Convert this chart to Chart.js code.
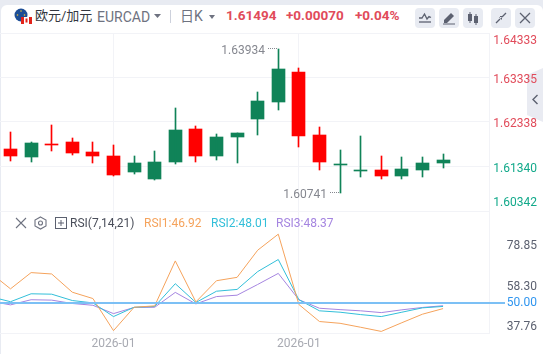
<!DOCTYPE html>
<html>
<head>
<meta charset="utf-8">
<script src="https://cdn.jsdelivr.net/npm/chart.js@4"></script>
<style>
html, body { margin: 0; padding: 0; width: 543px; height: 354px; overflow: hidden; background: #e8ebf2; font-family: Roboto, "Noto Sans CJK SC", sans-serif; }
#panel { position: absolute; left: 1px; top: 5px; width: 542px; height: 349px; background: #fff; border-radius: 6px 6px 0 0; }
canvas { position: absolute; left: 0; }
#candles { top: 32px; }
#rsi { top: 210px; }
.t { position: absolute; white-space: nowrap; line-height: 16px; }
.icon { position: absolute; }
.btn { position: absolute; top: 8px; width: 20px; height: 20px; background: #e8ebf2; border-radius: 4px; }
.btn svg { position: absolute; left: 0; top: 0; }
#tab { position: absolute; left: 527px; top: 68px; width: 16px; height: 54px; background: #e9ebf2; clip-path: polygon(0 7px, 100% 0, 100% 100%, 0 47px); }
</style>
</head>
<body>
<div id="panel"></div>
<div id="tab"></div>
<canvas id="candles" width="543" height="181"></canvas>
<canvas id="rsi" width="543" height="144"></canvas>

<svg class="icon" style="left:14px;top:8px" width="18" height="16" viewBox="0 0 18 16">
  <circle cx="7" cy="7" r="6.5" fill="#1d4e96"/>
  <circle cx="7" cy="3" r="0.8" fill="#f4c430"/><circle cx="3.5" cy="7" r="0.8" fill="#f4c430"/><circle cx="10.5" cy="7" r="0.8" fill="#f4c430"/>
  <rect x="7" y="9" width="11" height="7" fill="#fff"/>
  <rect x="7" y="9" width="3" height="7" fill="#e2231a"/><rect x="15" y="9" width="3" height="7" fill="#e2231a"/>
  <rect x="11.5" y="10.5" width="2" height="4" fill="#e2231a"/>
</svg>
<div class="t" style="left:35px;top:8px;font-size:13px;color:#333740">欧元/加元</div>
<div class="t" style="left:97px;top:9px;font-size:14px;color:#6e7280">EURCAD</div>
<svg class="icon" style="left:154px;top:14px" width="7" height="4"><path d="M0 0H7L3.5 4Z" fill="#6e7280"/></svg>
<div class="t" style="left:170px;top:10px;width:1px;height:13px;background:#cdd1dc"></div>
<div class="t" style="left:180px;top:8px;font-size:14px;color:#6e7280">日K</div>
<svg class="icon" style="left:209px;top:15px" width="6" height="4"><path d="M0 0H6L3 4Z" fill="#6e7280"/></svg>
<div class="t" style="left:226px;top:7px;font-size:13.5px;font-weight:700;color:#e14b5a">1.61494</div>
<div class="t" style="left:286px;top:7px;font-size:13.5px;font-weight:700;color:#e14b5a">+0.00070</div>
<div class="t" style="left:355px;top:7px;font-size:13.5px;font-weight:700;color:#e14b5a">+0.04%</div>

<div class="btn" style="left:415px"><svg width="20" height="20"><path d="M4 10L7 10L9.5 6L12 11L14 8.500L16 9.500" fill="none" stroke="#5c6170" stroke-width="1.300"/><path d="M4 14H16" stroke="#5c6170" stroke-width="1.300"/></svg></div>
<div class="btn" style="left:439px"><svg width="20" height="20"><path d="M5 12L12 5L15 8L8 15H5Z" fill="#5c6170"/><path d="M4 16H16" stroke="#5c6170"/></svg></div>
<div class="btn" style="left:463px"><svg width="20" height="20"><rect x="5" y="6" width="4" height="7" fill="#5c6170"/><path d="M7 4V15M13 6V17" stroke="#5c6170"/><rect x="11" y="8" width="4" height="7" fill="#5c6170"/></svg></div>
<div class="btn" style="left:491px"><svg width="20" height="20"><path d="M5 15L9 11M15 5L11 9" stroke="#5c6170" stroke-width="1.300"/><path d="M8 9H11V12ZM12 8H9V11Z" fill="#5c6170"/></svg></div>
<div class="btn" style="left:515px"><svg width="20" height="20"><path d="M5 5L15 15M15 5L5 15" stroke="#5c6170" stroke-width="1.300"/></svg></div>

<svg class="icon" style="left:531px;top:94px" width="8" height="11"><path d="M6.500 1L2 5.500L6.500 10" fill="none" stroke="#5c6170" stroke-width="1.400"/></svg>

<svg class="icon" style="left:15px;top:217px" width="12" height="12"><path d="M1 1L11 11M11 1L1 11" stroke="#6e7280" stroke-width="1.100"/></svg>
<svg class="icon" style="left:34px;top:216px" width="13" height="14"><path d="M6.500 1L12 4V10L6.500 13L1 10V4Z" fill="none" stroke="#6e7280" stroke-width="1.100"/><circle cx="6.500" cy="7" r="2" fill="none" stroke="#6e7280" stroke-width="1.100"/></svg>
<svg class="icon" style="left:55px;top:217px" width="12" height="12"><rect x="0.500" y="0.500" width="11" height="11" fill="none" stroke="#5c6170"/><path d="M3 6H9M6 3V9" stroke="#5c6170"/></svg>
<div class="t" style="left:70px;top:215px;font-size:12px;color:#4a4e5a">RSI(7,14,21)</div>
<div class="t" style="left:144px;top:215px;font-size:12px;color:#f5a35c">RSI1:46.92</div>
<div class="t" style="left:211px;top:215px;font-size:12px;color:#32bfd9">RSI2:48.01</div>
<div class="t" style="left:276px;top:215px;font-size:12px;color:#a585e0">RSI3:48.37</div>

<script>
const dates = ['2025-12-12', '2025-12-15', '2025-12-16', '2025-12-17', '2025-12-18', '2025-12-19', '2025-12-22', '2025-12-23', '2025-12-24', '2025-12-25', '2025-12-26', '2025-12-29', '2025-12-30', '2025-12-31', '2026-01-01', '2026-01-02', '2026-01-05', '2026-01-06', '2026-01-07', '2026-01-08', '2026-01-09', '2026-01-12'];

const opens  = [1.61736, 1.61557, 1.61848, 1.61893, 1.61669, 1.61579, 1.61221, 1.61065, 1.61445, 1.62184, 1.61579, 1.62005, 1.62408, 1.62788, 1.63459, 1.62049, 1.61378, 1.61244, 1.61266, 1.61132, 1.61266, 1.61424];
const closes = [1.61579, 1.61870, 1.61826, 1.61647, 1.61579, 1.61154, 1.61423, 1.61445, 1.62161, 1.61579, 1.62005, 1.62094, 1.62810, 1.63527, 1.62027, 1.61445, 1.61400, 1.61266, 1.61132, 1.61289, 1.61423, 1.61494];
const highs  = [1.62117, 1.61893, 1.62273, 1.61982, 1.61893, 1.61826, 1.61579, 1.61691, 1.62654, 1.62251, 1.62072, 1.62094, 1.63012, 1.63974, 1.63549, 1.62228, 1.61714, 1.62027, 1.61579, 1.61557, 1.61557, 1.61624];
const lows   = [1.61468, 1.61445, 1.61691, 1.61602, 1.61423, 1.61132, 1.61177, 1.61042, 1.61400, 1.61445, 1.61490, 1.61423, 1.62049, 1.62609, 1.61781, 1.61266, 1.60741, 1.61109, 1.61065, 1.61065, 1.61109, 1.61311];

const hiLabel = '1.63934';
const loLabel = '1.60741';

// first value of each RSI list is the day before the visible window
const rsi1 = [65.2, 56.9, 65.1, 64.4, 55.2, 52.0, 35.8, 47.6, 48.3, 71.0, 50.3, 61.0, 62.7, 76.4, 84.5, 49.0, 40.4, 39.5, 37.5, 35.4, 39.8, 44.1, 46.92];
const rsi2 = [53.0, 50.4, 54.4, 54.2, 51.0, 49.8, 42.9, 47.6, 48.0, 59.5, 50.0, 55.7, 56.6, 65.6, 71.7, 51.4, 45.8, 45.1, 43.9, 42.9, 45.1, 47.3, 48.01];
const rsi3 = [50.7, 48.8, 51.4, 51.2, 49.5, 48.6, 44.4, 47.5, 47.6, 55.1, 49.3, 53.0, 53.7, 59.1, 64.7, 51.4, 47.1, 46.4, 45.8, 44.9, 46.3, 47.5, 48.37];

const priceTicks = [1.64333, 1.63335, 1.62338, 1.61340, 1.60342];
const rsiTicks = [78.85, 58.30, 50.00, 37.76];
const xTicks = [5, 14];
const xTickLabels = ['2026-01', '2026-01'];
const rsiMid = 50;

const UP = '#108358';
const DOWN = '#ff0000';
const GRID = '#f2f3f7';
const FONT = '12px Roboto';
const X_MIN = -0.51, X_MAX = 23.23;

// labels on the right have to stay inside the pane, native ticks can't clamp
const sideLabels = {
    id: 'sideLabels',
    afterDraw(chart, args, opts) {
        const s = chart.scales.y;
        const ctx = chart.ctx;
        ctx.save();
        ctx.font = FONT;
        ctx.textAlign = 'right';
        ctx.textBaseline = 'middle';
        opts.values.forEach(v => {
            const y = Math.min(Math.max(s.getPixelForValue(v) + opts.dy, s.top + opts.padTop), s.bottom - opts.padBottom);
            ctx.fillStyle = opts.color(v);
            ctx.fillText(v.toFixed(opts.digits), 537, y);
        });
        ctx.restore();
    }
};

// snap bars on whole pixels so wicks stay 1px
const snapBars = {
    id: 'snapBars',
    afterDatasetsUpdate(chart) {
        chart.data.datasets.forEach((d, i) => {
            if (d.type !== 'bar') return;
            chart.getDatasetMeta(i).data.forEach(b => {
                b.x = Math.floor(b.x) + 0.5;
                b.y = Math.round(b.y);
                b.base = Math.round(b.base);
                if (b.y === b.base) b.base = b.y + 1;
            });
        });
    }
};

const extremes = {
    id: 'extremes',
    afterDraw(chart) {
        const ctx = chart.ctx;
        const { x, y } = chart.scales;
        const hi = highs.indexOf(Math.max(...highs));
        const lo = lows.indexOf(Math.min(...lows));
        ctx.save();
        ctx.font = FONT;
        ctx.fillStyle = '#85878f';
        ctx.textBaseline = 'middle';
        ctx.textAlign = 'right';
        [[hi, highs[hi], hiLabel], [lo, lows[lo], loLabel]].forEach(([i, v, text]) => {
            const px = Math.floor(x.getPixelForValue(i));
            const py = Math.round(y.getPixelForValue(v));
            ctx.fillText(text, px - 13, py + 2);
            for (let k = 2; k < 11; k += 2) ctx.fillRect(px - k, py - 1, 1, 1);
        });
        ctx.restore();
    }
};

const midLine = {
    id: 'midLine',
    afterDatasetsDraw(chart) {
        const y = Math.round(chart.scales.y.getPixelForValue(rsiMid));
        const ctx = chart.ctx;
        ctx.save();
        ctx.fillStyle = '#7cc0f5';
        ctx.fillRect(0, y - 1, 505, 2);
        ctx.restore();
    }
};

const xScale = (showLabels) => ({
    type: 'linear',
    offset: false,
    min: X_MIN,
    max: X_MAX,
    afterBuildTicks: s => { s.ticks = xTicks.map(v => ({ value: v })); },
    grid: { color: GRID, drawTicks: false, offset: false },
    border: { color: GRID },
    ticks: {
        display: showLabels,
        autoSkip: false,
        maxRotation: 0,
        padding: 3,
        color: '#a8aab2',
        font: { family: 'Roboto', size: 12 },
        callback: v => xTickLabels[xTicks.indexOf(v)]
    }
});

new Chart(document.getElementById('candles'), {
    type: 'bar',
    data: {
        datasets: [
            {
                type: 'bar',
                data: dates.map((d, i) => ({ x: i, y: [lows[i], highs[i]] })),
                backgroundColor: dates.map((d, i) => closes[i] >= opens[i] ? UP : DOWN),
                barThickness: 1,
                grouped: false,
                borderWidth: 0
            },
            {
                type: 'bar',
                data: dates.map((d, i) => ({ x: i, y: [opens[i], closes[i]] })),
                backgroundColor: dates.map((d, i) => closes[i] >= opens[i] ? UP : DOWN),
                barThickness: 13,
                grouped: false,
                borderWidth: 0
            }
        ]
    },
    options: {
        responsive: false,
        animation: false,
        layout: { padding: { top: 1, bottom: 2 } },
        plugins: {
            legend: { display: false },
            tooltip: { enabled: false },
            sideLabels: {
                values: priceTicks,
                digits: 5,
                dy: 2.5,
                padTop: 8,
                padBottom: 8,
                color: v => v > 1.62 ? '#e14b5a' : '#12a98a'
            }
        },
        scales: {
            x: xScale(false),
            y: {
                position: 'right',
                min: priceTicks[4],
                max: priceTicks[0],
                afterBuildTicks: s => { s.ticks = priceTicks.map(v => ({ value: v })); },
                afterFit: s => { s.width = 54; },
                grid: { color: GRID, drawTicks: false },
                border: { color: GRID },
                ticks: { display: false }
            }
        }
    },
    plugins: [snapBars, sideLabels, extremes]
});

const rsiLine = (values, color) => ({
    type: 'line',
    data: values.map((v, i) => ({ x: i - 1, y: v })),
    borderColor: color,
    borderWidth: 1,
    pointRadius: 0,
    tension: 0
});

new Chart(document.getElementById('rsi'), {
    type: 'line',
    data: {
        datasets: [
            rsiLine(rsi1, '#f5a35c'),
            rsiLine(rsi2, '#32bfd9'),
            rsiLine(rsi3, '#a585e0')
        ]
    },
    options: {
        responsive: false,
        animation: false,
        layout: { padding: { top: 1 } },
        plugins: {
            legend: { display: false },
            tooltip: { enabled: false },
            sideLabels: {
                values: rsiTicks,
                digits: 2,
                dy: 0.5,
                padTop: 0,
                padBottom: 0,
                color: v => v === rsiMid ? '#2f95ef' : '#5c6170'
            }
        },
        scales: {
            x: xScale(true),
            y: {
                position: 'right',
                min: 34.3,
                max: 96.2,
                afterBuildTicks: s => { s.ticks = rsiTicks.map(v => ({ value: v })); },
                afterFit: s => { s.width = 54; },
                grid: { display: false },
                border: { color: GRID },
                ticks: { display: false }
            }
        }
    },
    plugins: [sideLabels, midLine]
});
</script>
</body>
</html>
